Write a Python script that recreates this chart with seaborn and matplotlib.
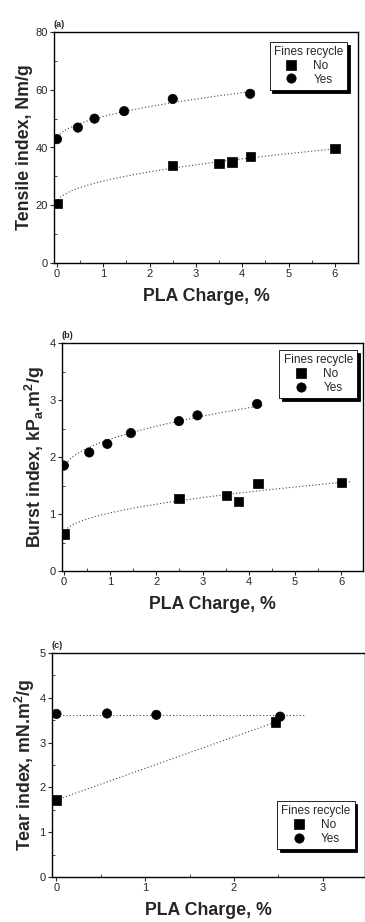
import numpy as np
import pandas as pd
import matplotlib
matplotlib.use("Agg")
import matplotlib.pyplot as plt
from matplotlib.ticker import MultipleLocator
import seaborn as sns

sns.set_style("ticks")
plt.rcParams['font.family'] = ['Liberation Sans', 'DejaVu Sans']

# ---- data ----
a_no_x = [0.0, 2.5, 3.5, 3.78, 4.18, 6.0]
a_no_y = [20.6, 33.7, 34.4, 35.0, 36.9, 39.6]
a_yes_x = [0.0, 0.45, 0.81, 1.45, 2.5, 4.17]
a_yes_y = [42.9, 46.9, 50.0, 52.6, 56.8, 58.6]

b_no_x = [0.0, 2.49, 3.52, 3.78, 4.2, 6.0]
b_no_y = [0.65, 1.27, 1.33, 1.22, 1.53, 1.55]
b_yes_x = [0.0, 0.55, 0.94, 1.45, 2.49, 2.89, 4.18]
b_yes_y = [1.85, 2.08, 2.23, 2.42, 2.63, 2.73, 2.93]

c_no_x = [0.0, 2.47]
c_no_y = [1.72, 3.46]
c_yes_x = [0.0, 0.57, 1.125, 2.52]
c_yes_y = [3.64, 3.65, 3.62, 3.58]

groups = ["No", "Yes"]
legend_title = "Fines recycle"
xlabel = "PLA Charge, %"
ylabels = ["Tensile index, Nm/g", "Burst index, kP$_\\mathregular{a}$.m$^\\mathregular{2}$/g",
           "Tear index, mN.m$^\\mathregular{2}$/g"]
panel_labels = ["(a)", "(b)", "(c)"]


def frame(nx, ny, yx, yy):
    return pd.DataFrame({
        "x": list(nx) + list(yx),
        "y": list(ny) + list(yy),
        legend_title: ["No"] * len(nx) + ["Yes"] * len(yx),
    })


def sqrt_fit(x, y, xmax):
    x = np.asarray(x); y = np.asarray(y)
    b, a = np.polyfit(np.sqrt(x), y, 1)
    xs = np.linspace(0, xmax, 200)
    return xs, a + b * np.sqrt(xs)


def lin_fit(x, y, xmax, deg):
    c = np.polyfit(np.asarray(x), np.asarray(y), deg)
    xs = np.linspace(0, xmax, 50)
    return xs, np.polyval(c, xs)


W, H = 365, 922
fig = plt.figure(figsize=(W / 100, H / 100), dpi=100)

def add_ax(l, r, t, b):
    return fig.add_axes([l / W, 1 - b / H, (r - l) / W, (b - t) / H])

ax_a = add_ax(54, 358, 32, 263)
ax_b = add_ax(62, 363, 343, 571)
ax_c = add_ax(52, 364.5, 653, 877)

panels = [
    (ax_a, frame(a_no_x, a_no_y, a_yes_x, a_yes_y), (-0.065, 6.5), (0, 80), 20, 10, 1, 0.5,
     sqrt_fit(a_no_x, a_no_y, 6.0), sqrt_fit(a_yes_x, a_yes_y, 4.3), (0.964, 0.957)),
    (ax_b, frame(b_no_x, b_no_y, b_yes_x, b_yes_y), (-0.04, 6.47), (0, 4), 1, 0.5, 1, 0.5,
     sqrt_fit(b_no_x, b_no_y, 6.2), sqrt_fit(b_yes_x, b_yes_y, 4.3), (0.98, 0.969)),
    (ax_c, frame(c_no_x, c_no_y, c_yes_x, c_yes_y), (-0.05, 3.47), (0, 5), 1, 0.5, 1, 0.5,
     lin_fit(c_no_x, c_no_y, 2.5, 1), lin_fit(c_yes_x, c_yes_y, 2.8, 0), (0.968, 0.339)),
]

for i, (ax, df, xl, yl, ymaj, ymin, xmaj, xmin, fno, fyes, lpos) in enumerate(panels):
    for (xs, ys) in (fno, fyes):
        ax.plot(xs, ys, linestyle=(0, (1, 2)), color="#444444", lw=0.8, zorder=1)
    sns.scatterplot(data=df, x="x", y="y", style=legend_title, hue=legend_title,
                    palette={"No": "black", "Yes": "black"},
                    markers={"No": "s", "Yes": "o"}, s=45, edgecolor="black",
                    linewidth=0.5, ax=ax, zorder=3, legend=True)
    ax.set_xlim(*xl)
    ax.set_ylim(*yl)
    ax.yaxis.set_major_locator(MultipleLocator(ymaj))
    ax.yaxis.set_minor_locator(MultipleLocator(ymin))
    ax.xaxis.set_major_locator(MultipleLocator(xmaj))
    ax.xaxis.set_minor_locator(MultipleLocator(xmin))
    ax.tick_params(which="major", direction="out", length=3, width=0.8, labelsize=8, pad=1.5)
    ax.tick_params(which="minor", direction="in", length=2, width=0.6)
    for sp in ax.spines.values():
        sp.set_visible(True)
        sp.set_color("black")
        sp.set_linewidth(1.0)
    ax.set_xlabel(xlabel, fontsize=12.8, fontweight="bold", labelpad=6)
    ax.set_ylabel(ylabels[i], fontsize=12.8, fontweight="bold", labelpad=2)
    ax.text(0.0, 1.015, panel_labels[i], transform=ax.transAxes, fontsize=6.5,
            fontweight="bold", ha="left", va="bottom")
    h, lab = ax.get_legend_handles_labels()
    leg = ax.legend(h, lab, title=legend_title, loc="upper right", bbox_to_anchor=lpos,
                    frameon=True, fancybox=False, shadow={"color": "black", "alpha": 1},
                    edgecolor="black", framealpha=1, fontsize=8.5, title_fontsize=8.5,
                    borderpad=0.35, labelspacing=0.15, handletextpad=1.3, handlelength=1.2,
                    borderaxespad=0)
    leg.get_frame().set_linewidth(0.6)
    leg.set_zorder(5)

fig.savefig("out.png", dpi=100)
